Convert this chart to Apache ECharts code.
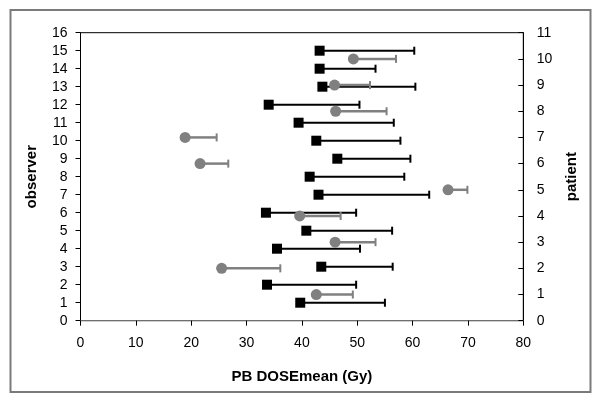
<!DOCTYPE html>
<html>
<head>
<meta charset="utf-8">
<script src="https://cdn.jsdelivr.net/npm/echarts@6/dist/echarts.min.js"></script>
<style>
html,body{margin:0;padding:0;background:#fff;}
#c{width:600px;height:400px;}
</style>
</head>
<body>
<div id="c"></div>
<script>
// ---- data ----
var xTicks = [0, 10, 20, 30, 40, 50, 60, 70, 80];
var observer = [1, 2, 3, 4, 5, 6, 7, 8, 9, 10, 11, 12, 13, 14, 15];
var obsMean  = [39.7, 33.7, 43.5, 35.5, 40.8, 33.5, 43.0, 41.4, 46.4, 42.6, 39.4, 34.0, 43.7, 43.2, 43.2];
var obsUpper = [55.0, 49.8, 56.4, 50.5, 56.3, 49.8, 63.0, 58.5, 59.6, 57.8, 56.6, 50.4, 60.5, 53.3, 60.3];
var patient  = [1, 2, 3, 4, 5, 6, 7, 8, 9, 10];
var patMean  = [42.6, 25.5, 46.0, 39.6, 66.4, 21.6, 18.9, 46.1, 45.9, 49.3];
var patUpper = [49.2, 36.1, 53.3, 47.0, 69.9, 26.7, 24.6, 55.3, 52.3, 57.0];

var FONT = 'Liberation Sans, Arial, sans-serif';
var BLACK = '#000000';
var GRAY = '#808080';

function errData(means, ys, uppers) {
  return means.map(function (m, i) { return [m, ys[i], uppers[i]]; });
}
function ptData(means, ys) {
  return means.map(function (m, i) { return [m, ys[i]]; });
}
function errRender(color, w) {
  return function (params, api) {
    var y = api.value(1);
    var p1 = api.coord([api.value(0), y]);
    var p2 = api.coord([api.value(2), y]);
    var st = { stroke: color, lineWidth: w };
    return {
      type: 'group',
      children: [
        { type: 'line', shape: { x1: p1[0], y1: p1[1], x2: p2[0], y2: p2[1] }, style: st },
        { type: 'line', shape: { x1: p2[0], y1: p2[1] - 4, x2: p2[0], y2: p2[1] + 4 }, style: { stroke: color, lineWidth: 2 } }
      ]
    };
  };
}

var chart = echarts.init(document.getElementById('c'), null, { renderer: 'canvas' });
chart.setOption({
  animation: false,
  backgroundColor: '#ffffff',
  textStyle: { fontFamily: FONT },
  graphic: [{
    type: 'rect', shape: { x: 10.5, y: 10, width: 580, height: 382 },
    style: { fill: 'none', stroke: '#7a7a7a', lineWidth: 2 }, silent: true, z: -1
  }],
  grid: {
    left: 80.5, right: 76.7, top: 32.7, bottom: 79.3,
    show: true, borderColor: BLACK, borderWidth: 1, backgroundColor: 'transparent'
  },
  xAxis: {
    type: 'value', min: 0, max: 80, interval: 10,
    name: 'PB DOSEmean (Gy)', nameLocation: 'middle', nameGap: 49,
    nameTextStyle: { fontFamily: FONT, fontSize: 15, fontWeight: 'bold', color: BLACK },
    axisLine: { show: true, lineStyle: { color: '#6e6e6e', width: 1 } },
    axisTick: { show: true, length: 5, lineStyle: { color: BLACK } },
    axisLabel: { fontFamily: FONT, fontSize: 14, color: BLACK, margin: 15,
      formatter: function (v) { return xTicks.indexOf(v) >= 0 ? String(v) : ''; } },
    splitLine: { show: false }
  },
  yAxis: [{
    type: 'value', min: 0, max: 16, interval: 1, position: 'left',
    name: 'observer', nameLocation: 'middle', nameGap: 41,
    nameTextStyle: { fontFamily: FONT, fontSize: 15, fontWeight: 'bold', color: BLACK },
    axisLine: { show: true, lineStyle: { color: BLACK, width: 1 } },
    axisTick: { show: true, length: 5, lineStyle: { color: BLACK } },
    axisLabel: { fontFamily: FONT, fontSize: 14, color: BLACK, margin: 13 },
    splitLine: { show: false }
  }, {
    type: 'value', min: 0, max: 11, interval: 1, position: 'right',
    name: 'patient', nameLocation: 'middle', nameGap: 41,
    nameTextStyle: { fontFamily: FONT, fontSize: 15, fontWeight: 'bold', color: BLACK },
    axisLine: { show: true, lineStyle: { color: BLACK, width: 1 } },
    axisTick: { show: true, inside: true, length: 5, lineStyle: { color: BLACK } },
    axisLabel: { fontFamily: FONT, fontSize: 14, color: BLACK, margin: 13.5 },
    splitLine: { show: false }
  }],
  series: [{
    type: 'custom', yAxisIndex: 0, z: 1,
    renderItem: errRender(BLACK, 2),
    encode: { x: [0, 2], y: 1 },
    data: errData(obsMean, observer, obsUpper)
  }, {
    type: 'scatter', yAxisIndex: 0, z: 2,
    symbol: 'rect', symbolSize: 10,
    itemStyle: { color: BLACK, opacity: 1 },
    data: ptData(obsMean, observer)
  }, {
    type: 'custom', yAxisIndex: 1, z: 3,
    renderItem: errRender(GRAY, 2.5),
    encode: { x: [0, 2], y: 1 },
    data: errData(patMean, patient, patUpper)
  }, {
    type: 'scatter', yAxisIndex: 1, z: 4,
    symbol: 'circle', symbolSize: 11,
    itemStyle: { color: GRAY, opacity: 1 },
    data: ptData(patMean, patient)
  }]
});
</script>
</body>
</html>
